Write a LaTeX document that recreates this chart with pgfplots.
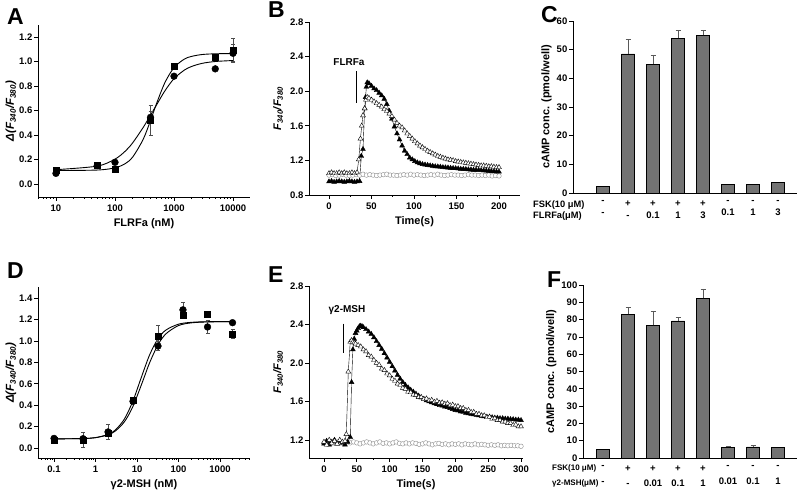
\documentclass[border=0pt]{standalone}
\usepackage{fontspec}
\setmainfont{Liberation Sans}
\usepackage{pgfplots}
\pgfplotsset{compat=1.18}

\newcommand\tkf{\bfseries\fontsize{9.5}{10}\selectfont}
\newcommand\lbf{\bfseries\fontsize{11}{12}\selectfont}
\newcommand\letf{\bfseries\fontsize{23}{23}\selectfont}

\pgfplotsset{
  panel/.style={
    scale only axis, axis x line*=bottom, axis y line*=left,
    axis line style={line width=0.8pt,-},
    tick align=outside, major tick length=4pt, minor tick length=2pt,
    every tick/.style={black, line width=0.7pt},
    tick label style={font=\tkf},
    yticklabel style={inner xsep=1.5pt},
    label style={font=\lbf},
    /pgf/number format/assume math mode=true,
  },
  onedec/.style={yticklabel style={/pgf/number format/.cd, fixed, fixed zerofill, precision=1}},
  % label is turned by 90 degrees, so its own y direction points to the left
  ylab/.style={ylabel style={at={(rel axis cs:0,0.5)}, anchor=center, yshift=#1}},
  fitline/.style={black, line width=0.9pt, no marks, smooth},
  sq/.style={only marks, mark=square*, mark size=3pt, black,
    error bars/.cd, y dir=both, y explicit,
    error bar style={black!70, line width=0.5pt},
    error mark options={rotate=90, black!70, mark size=2pt, line width=0.5pt}},
  ci/.style={only marks, mark=*, mark size=3.4pt, black,
    error bars/.cd, y dir=both, y explicit,
    error bar style={black!70, line width=0.5pt},
    error mark options={rotate=90, black!70, mark size=2pt, line width=0.5pt}},
  ftri/.style={black, line width=0.4pt, mark=triangle*, mark size=2.8pt, mark options={fill=black, draw=black}},
  otri/.style={black, line width=0.4pt, mark=triangle*, mark size=2.8pt, mark options={fill=white, draw=black}},
  ocirc/.style={black!45, line width=0.4pt, mark=*, mark size=2.3pt, mark options={fill=white, draw=black!45}},
  bars/.style={ybar, bar width=0.52, fill=black!55, draw=black, line width=0.5pt,
    error bars/.cd, y dir=plus, y explicit,
    error bar style={black!65, line width=0.6pt},
    error mark options={rotate=90, black!65, mark size=2.5pt, line width=0.6pt}},
}

\begin{document}
\begin{tikzpicture}
\path[use as bounding box] (0pt,0pt) rectangle (800pt,492pt);

% ---------- A ----------
\begin{axis}[panel, onedec, ylab=27pt, at={(38pt,295pt)}, anchor=south west,
  width=212pt, height=172pt, xmode=log,
  xmin=4.96, xmax=19400, ymin=-0.106, ymax=1.298,
  xtick={10,100,1000,10000}, xticklabels={10,100,1000,10000},
  minor xtick={5,6,7,8,9,20,30,40,50,60,70,80,90,200,300,400,500,600,700,800,900,2000,3000,4000,5000,6000,7000,8000,9000},
  ytick={0,0.2,...,1.2},
  xlabel={FLRFa (nM)}, ylabel={\itshape Δ(F\textsubscript{340}/F\textsubscript{380})},
  ylabel style={font=\bfseries\fontsize{11.5}{12}\selectfont}]
\addplot[fitline] coordinates {(10,0.11) (50,0.114) (100,0.132) (150,0.167) (200,0.221) (300,0.364) (400,0.518) (500,0.65) (700,0.827) (1000,0.95) (1500,1.02) (2000,1.042) (3000,1.057) (5000,1.063) (10000,1.065)};
\addplot[fitline] coordinates {(10,0.117) (50,0.146) (100,0.203) (150,0.269) (200,0.337) (300,0.461) (400,0.562) (500,0.641) (700,0.76) (1000,0.86) (1500,0.93) (2000,0.96) (3000,0.985) (5000,1.0) (10000,1.008)};
\addplot[sq] coordinates {(10,0.11) (50,0.155) (100,0.12) (400,0.52) +- (0,0.12) (1000,0.963) (5000,1.034) (10000,1.094) +- (0,0.095)};
\addplot[ci] coordinates {(10,0.087) (50,0.15) (100,0.177) (400,0.544) +- (0,0.05) (1000,0.88) +- (0,0.02) (5000,0.94) (10000,1.067) +- (0,0.07)};
\end{axis}

% ---------- B ----------
\begin{axis}[panel, onedec, ylab=31pt, at={(309pt,297pt)}, anchor=south west,
  width=211pt, height=173pt,
  xmin=-23.5, xmax=224.7, ymin=0.8, ymax=2.8,
  xtick={0,50,...,200}, ytick={0.8,1.2,...,2.8}, minor x tick num=1,
  xlabel={Time(s)}, ylabel={\itshape F\textsubscript{340}/F\textsubscript{380}}]
\addplot[ocirc] coordinates {(0,1.03) (4,1.035) (8,1.025) (12,1.03) (16,1.04) (20,1.03) (24,1.025) (28,1.03) (32,1.035) (36,1.03) (40,1.04) (44,1.03) (48,1.035) (52,1.03) (56,1.025) (60,1.03) (64,1.035) (68,1.04) (72,1.03) (76,1.03) (80,1.025) (84,1.03) (88,1.035) (92,1.03) (96,1.04) (100,1.03) (104,1.035) (108,1.03) (112,1.025) (116,1.03) (120,1.035) (124,1.03) (128,1.04) (132,1.03) (136,1.025) (140,1.03) (144,1.035) (148,1.03) (152,1.03) (156,1.025) (160,1.03) (164,1.035) (168,1.03) (172,1.03) (176,1.025) (180,1.03) (184,1.025) (188,1.03) (192,1.02) (196,1.025) (200,1.02)};
\addplot[ftri] coordinates {(0,0.955) (3,0.96) (6,0.95) (9,0.955) (12,0.96) (15,0.955) (18,0.95) (21,0.955) (24,0.96) (27,0.955) (30,0.95) (33,0.955) (36,0.96) (38,1.25) (40,1.33) (42,1.80) (43,1.93) (44,2.05) (45,2.10) (47,2.09) (50,2.06) (53,2.03) (56,2.01) (59,1.98) (62,1.95) (65,1.91) (68,1.85) (71,1.77) (74,1.68) (77,1.59) (80,1.51) (83,1.44) (86,1.37) (89,1.31) (92,1.27) (95,1.23) (98,1.21) (101,1.19) (104,1.175) (107,1.165) (110,1.155) (113,1.15) (116,1.145) (119,1.14) (122,1.135) (125,1.13) (128,1.128) (131,1.125) (134,1.12) (137,1.118) (140,1.115) (143,1.112) (146,1.11) (149,1.108) (152,1.105) (155,1.10) (158,1.10) (161,1.098) (164,1.095) (167,1.093) (170,1.09) (173,1.09) (176,1.088) (179,1.085) (182,1.083) (185,1.08) (188,1.078) (191,1.075) (194,1.072) (197,1.07) (200,1.068)};
\addplot[otri] coordinates {(0,1.05) (3,1.06) (6,1.05) (9,1.05) (12,1.06) (15,1.05) (18,1.06) (21,1.05) (24,1.05) (27,1.06) (30,1.05) (33,1.06) (35,1.21) (37,1.45) (38.5,1.60) (40,1.72) (42,1.80) (43.5,1.90) (45,1.93) (47,1.92) (50,1.90) (53,1.88) (56,1.86) (59,1.84) (62,1.82) (65,1.79) (68,1.77) (71,1.74) (74,1.71) (77,1.67) (80,1.63) (83,1.60) (86,1.58) (89,1.545) (92,1.51) (95,1.48) (98,1.45) (101,1.42) (104,1.395) (107,1.37) (110,1.35) (113,1.33) (116,1.31) (119,1.295) (122,1.28) (125,1.265) (128,1.25) (131,1.24) (134,1.23) (137,1.22) (140,1.21) (143,1.205) (146,1.20) (149,1.19) (152,1.185) (155,1.18) (158,1.175) (161,1.17) (164,1.165) (167,1.16) (170,1.155) (173,1.15) (176,1.145) (179,1.14) (182,1.14) (185,1.135) (188,1.13) (191,1.13) (194,1.125) (197,1.12) (200,1.12)};
\draw[line width=0.6pt] (axis cs:31.8,2.23) -- (axis cs:31.8,1.86);
\node[font=\bfseries\fontsize{10}{10}\selectfont] at (axis cs:23.5,2.34) {FLRFa};
\end{axis}

% ---------- C ----------
\begin{axis}[panel, at={(573pt,299pt)}, anchor=south west,
  width=224pt, height=172pt,
  xmin=-1.2, xmax=7.76, ymin=0, ymax=60,
  ytick={0,10,...,60}, xtick={0,...,7}, xtick style={draw=none},
  xticklabels={{-\\-},{+\\-},{+\\0.1},{+\\1},{+\\3},{-\\0.1},{-\\1},{-\\3}},
  x tick label style={align=center, font=\bfseries\fontsize{9.5}{12}\selectfont},
  ylabel={cAMP conc. (pmol/well)}, ylabel style={font=\bfseries\fontsize{11}{12}\selectfont}]
\addplot[bars] coordinates {(0,2.2) (1,48.5) +- (0,5) (2,45) +- (0,3.2) (3,54) +- (0,2.7) (4,55) +- (0,1.7) (5,3.1) (6,3.1) (7,3.8)};
\end{axis}

% ---------- D ----------
\begin{axis}[panel, onedec, ylab=27pt, at={(38pt,34pt)}, anchor=south west,
  width=212pt, height=171pt, xmode=log,
  xmin=0.041, xmax=5280, ymin=-0.093, ymax=1.503,
  xtick={0.1,1,10,100,1000}, xticklabels={0.1,1,10,100,1000},
  minor xtick={0.05,0.06,0.07,0.08,0.09,0.2,0.3,0.4,0.5,0.6,0.7,0.8,0.9,2,3,4,5,6,7,8,9,20,30,40,50,60,70,80,90,200,300,400,500,600,700,800,900,2000,3000,4000,5000},
  ytick={0,0.2,...,1.4},
  xlabel={γ2-MSH (nM)}, ylabel={\itshape Δ(F\textsubscript{340}/F\textsubscript{380})},
  ylabel style={font=\bfseries\fontsize{11.5}{12}\selectfont}]
\addplot[fitline] coordinates {(0.1,0.085) (0.5,0.089) (1,0.097) (2,0.127) (3,0.168) (5,0.273) (8,0.441) (12,0.633) (20,0.868) (32,1.02) (50,1.102) (100,1.156) (200,1.173) (500,1.179) (2000,1.18)};
\addplot[fitline] coordinates {(0.1,0.085) (0.5,0.089) (1,0.097) (2,0.123) (3,0.159) (5,0.247) (8,0.39) (14,0.633) (20,0.794) (32,0.964) (50,1.067) (100,1.143) (200,1.168) (500,1.177) (2000,1.18)};
\addplot[sq] coordinates {(0.1,0.075) (0.5,0.075) +- (0,0.068) (2,0.137) (8,0.45) (32,1.04) +- (0,0.105) (128,1.24) (500,1.248) +- (0,0.03) (2000,1.067) +- (0,0.045)};
\addplot[ci] coordinates {(0.1,0.09) (0.5,0.087) (2,0.15) +- (0,0.07) (8,0.436) (32,0.952) +- (0,0.04) (128,1.29) +- (0,0.073) (500,1.13) +- (0,0.06) (2000,1.17)};
\end{axis}

% ---------- E ----------
\begin{axis}[panel, onedec, ylab=31pt, at={(309pt,34pt)}, anchor=south west,
  width=214pt, height=172pt,
  xmin=-22.8, xmax=303, ymin=1.013, ymax=2.8,
  xtick={0,50,...,300}, ytick={1.2,1.6,...,2.8}, minor x tick num=1,
  xlabel={Time(s)}, ylabel={\itshape F\textsubscript{340}/F\textsubscript{380}}]
\addplot[ocirc] coordinates {(0,1.17) (5,1.18) (10,1.16) (15,1.17) (20,1.18) (25,1.17) (30,1.16) (35,1.18) (40,1.17) (45,1.18) (50,1.17) (55,1.16) (60,1.17) (65,1.18) (70,1.17) (75,1.16) (80,1.17) (85,1.18) (90,1.165) (95,1.17) (100,1.16) (105,1.17) (110,1.18) (115,1.165) (120,1.16) (125,1.17) (130,1.16) (135,1.17) (140,1.165) (145,1.155) (150,1.16) (155,1.17) (160,1.16) (165,1.15) (170,1.16) (175,1.165) (180,1.155) (185,1.16) (190,1.15) (195,1.16) (200,1.155) (205,1.16) (210,1.15) (215,1.16) (220,1.155) (225,1.15) (230,1.16) (235,1.15) (240,1.155) (245,1.15) (250,1.145) (255,1.15) (260,1.145) (265,1.15) (270,1.14) (275,1.145) (280,1.14) (285,1.145) (290,1.14) (295,1.14) (300,1.135)};
\addplot[ftri] coordinates {(0,1.16) (4,1.19) (8,1.15) (12,1.18) (16,1.20) (20,1.16) (24,1.19) (28,1.17) (32,1.15) (36,1.18) (40,1.23) (42,1.80) (44,2.14) (46,2.25) (48,2.31) (50,2.335) (52,2.36) (54,2.38) (56,2.385) (58,2.38) (60,2.37) (64,2.35) (68,2.325) (72,2.30) (76,2.265) (80,2.225) (84,2.185) (88,2.145) (92,2.10) (96,2.055) (100,2.01) (104,1.965) (108,1.92) (112,1.875) (116,1.835) (120,1.80) (124,1.77) (128,1.745) (132,1.72) (136,1.70) (140,1.68) (144,1.66) (148,1.64) (152,1.625) (156,1.61) (160,1.60) (164,1.59) (168,1.58) (172,1.57) (176,1.56) (180,1.555) (184,1.545) (188,1.54) (192,1.53) (196,1.52) (200,1.51) (204,1.505) (208,1.495) (212,1.49) (216,1.48) (220,1.475) (224,1.47) (228,1.465) (232,1.46) (236,1.455) (240,1.45) (244,1.445) (248,1.44) (252,1.44) (256,1.435) (260,1.43) (264,1.43) (268,1.425) (272,1.425) (276,1.42) (280,1.42) (284,1.415) (288,1.415) (292,1.41) (296,1.41) (300,1.405)};
\addplot[otri] coordinates {(0,1.18) (4,1.15) (8,1.20) (12,1.17) (16,1.19) (20,1.16) (24,1.20) (28,1.18) (32,1.19) (34,1.26) (37,1.91) (40,2.22) (42,2.235) (44,2.22) (46,2.21) (48,2.20) (52,2.185) (56,2.17) (60,2.14) (64,2.12) (68,2.08) (72,2.065) (76,2.03) (80,2.00) (84,1.98) (88,1.94) (92,1.925) (96,1.89) (100,1.87) (104,1.835) (108,1.815) (112,1.785) (116,1.77) (120,1.74) (124,1.73) (128,1.70) (132,1.695) (136,1.67) (140,1.665) (144,1.645) (148,1.645) (152,1.625) (156,1.63) (160,1.61) (164,1.615) (168,1.595) (172,1.605) (176,1.585) (180,1.59) (184,1.575) (188,1.58) (192,1.56) (196,1.565) (200,1.55) (204,1.55) (208,1.53) (212,1.53) (216,1.51) (220,1.51) (224,1.49) (228,1.49) (232,1.47) (236,1.47) (240,1.455) (244,1.455) (248,1.435) (252,1.44) (256,1.42) (260,1.425) (264,1.405) (268,1.405) (272,1.39) (276,1.39) (280,1.375) (284,1.375) (288,1.355) (292,1.36) (296,1.34) (300,1.34)};
\draw[line width=0.6pt] (axis cs:29.4,2.41) -- (axis cs:29.4,2.10);
\node[font=\bfseries\fontsize{10}{10}\selectfont] at (axis cs:35,2.545) {γ2-MSH};
\end{axis}

% ---------- F ----------
\begin{axis}[panel, at={(583pt,34pt)}, anchor=south west,
  width=214pt, height=173pt,
  xmin=-0.8, xmax=7.76, ymin=0, ymax=100,
  ytick={0,10,...,100}, xtick={0,...,7}, xtick style={draw=none},
  xticklabels={{-\\-},{+\\-},{+\\0.01},{+\\0.1},{+\\1},{-\\0.01},{-\\0.1},{-\\1}},
  x tick label style={align=center, font=\bfseries\fontsize{9.5}{15.5}\selectfont},
  ylabel={cAMP conc. (pmol/well)}, ylabel style={font=\bfseries\fontsize{11}{12}\selectfont}]
\addplot[bars] coordinates {(0,5.2) (1,83) +- (0,4) (2,76.7) +- (0,8) (3,79.3) +- (0,2) (4,92.3) +- (0,5.5) (5,6.3) +- (0,0.5) (6,6.5) +- (0,0.7) (7,6.2)};
\end{axis}

% row headers under bar charts
\begin{scope}[every node/.style={anchor=west, inner sep=0pt}]
\node[font=\bfseries\fontsize{9.3}{10}\selectfont] at (533pt,287pt) {FSK(10 μM)};
\node[font=\bfseries\fontsize{9.3}{10}\selectfont] at (533pt,276pt) {FLRFa(μM)};
\node[font=\bfseries\fontsize{8}{10}\selectfont] at (552pt,24pt) {FSK(10 μM)};
\node[font=\bfseries\fontsize{8}{10}\selectfont] at (552pt,8.5pt) {γ2-MSH(μM)};
\end{scope}

% panel letters
\begin{scope}[every node/.style={anchor=base west, inner sep=0pt, font=\letf}]
\node at (7pt,467pt) {A};
\node at (268pt,474pt) {B};
\node at (541pt,469pt) {C};
\node at (7pt,213pt) {D};
\node at (268pt,209pt) {E};
\node at (547pt,204pt) {F};
\end{scope}
\end{tikzpicture}
\end{document}
